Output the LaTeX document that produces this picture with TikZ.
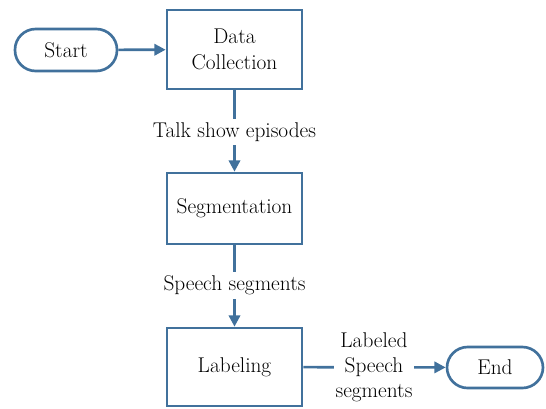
\documentclass[tikz,border=0pt]{standalone}
\usetikzlibrary{arrows.meta}
\definecolor{flowblue}{RGB}{65,113,156}
\tikzset{
  procbox/.style={draw=flowblue, line width=2pt, rectangle, inner sep=0pt,
    minimum width=101.25pt, align=center, font=\fontsize{16}{19.5}\selectfont},
  terminal/.style={draw=flowblue, line width=2pt, rectangle, inner sep=0pt,
    rounded corners=15.5pt, align=center, font=\fontsize{16}{19.5}\selectfont},
  flowlabel/.style={fill=white, inner xsep=1pt, inner ysep=3pt, align=center,
    font=\fontsize{16}{18.75}\selectfont},
  flowline/.style={draw=flowblue, line width=2pt},
  flowarrow/.style={flowline, -{Triangle[length=8.5pt, width=8.5pt]}},
}
\begin{document}
\begin{tikzpicture}[x=0.75pt, y=-0.75pt]
  \useasboundingbox (0,0) rectangle (546,408);

  % terminals
  \node[terminal, minimum width=76.5pt, minimum height=31.5pt] (start) at (66,50) {Start};
  \node[terminal, minimum width=72pt, minimum height=30.75pt] (end) at (495,367.5) {End};

  % process steps
  \node[procbox, minimum height=59.25pt] (collect) at (234.5,49.5) {Data\\Collection};
  \node[procbox, minimum height=53.25pt] (segment) at (234.5,208.5) {Segmentation};
  \node[procbox, minimum height=58.5pt] (label) at (234.5,367) {Labeling};

  % connectors
  \draw[flowarrow] (start) -- (collect);
  \draw[flowarrow] (collect) -- (segment);
  \draw[flowarrow] (segment) -- (label);
  \draw[flowarrow] (label) -- (end);

  % data labels on the connectors
  \node[flowlabel] (episodes) at (234.5,132) {Talk show episodes};
  \node[flowlabel] (speech) at (234.5,285.5) {Speech segments};
  \node[flowlabel] (labeled) at (374,367) {Labeled\\Speech\\segments};
\end{tikzpicture}
\end{document}
